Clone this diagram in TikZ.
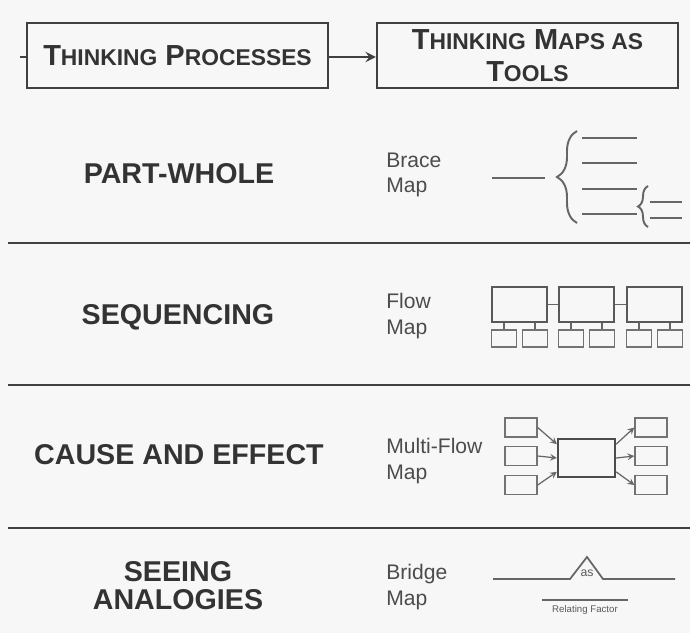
\documentclass[tikz,border=0pt]{standalone}
\usepackage{fontspec}
\setmainfont{Liberation Sans}
\usetikzlibrary{arrows, decorations.pathreplacing, calc}

\newcommand{\smcap}[2]{#1{\fontsize{13pt}{14pt}\selectfont #2}}

\tikzset{
	headbox/.style={draw=black!75, line width=1.2pt, minimum width=6.02cm, minimum height=1.3cm, inner sep=0pt, align=center, text=black!80, font=\fontsize{16.5pt}{15.6pt}\selectfont\bfseries},
	title/.style={inner sep=0pt, align=center, text=black!80, font=\fontsize{16.3pt}{15.9pt}\selectfont\bfseries},
	maplabel/.style={anchor=west, inner sep=0pt, align=left, text=black!70, font=\fontsize{12pt}{14.6pt}\selectfont},
	rule/.style={draw=black!75, line width=1.2pt},
	mapline/.style={draw=black!60, line width=1.1pt},
	bigbox/.style={draw=black!65, line width=1.3pt, minimum width=1.1cm, minimum height=0.7cm, inner sep=0pt},
	smallbox/.style={draw=black!55, line width=0.8pt, minimum width=0.49cm, minimum height=0.34cm, inner sep=0pt},
	centrebox/.style={draw=black!70, line width=1.3pt, minimum width=1.14cm, minimum height=0.76cm, inner sep=0pt},
	sidebox/.style={draw=black!55, line width=0.8pt, minimum width=0.64cm, minimum height=0.38cm, inner sep=0pt},
	mfarrow/.style={draw=black!60, line width=0.7pt, ->, >=stealth}
}

\begin{document}
\begin{tikzpicture}[x=0.02cm, y=-0.02cm]
		\fill[black!3] (0,0) rectangle (690,633);
		\useasboundingbox (0,0) rectangle (690,633);

		\draw (177.5,55.5) node[headbox] (proc) {\smcap{T}{HINKING} \smcap{P}{ROCESSES}}
		(527.5,55.5) node[headbox] (tools) {\smcap{T}{HINKING} \smcap{M}{APS AS}\\[2.5pt] \smcap{T}{OOLS}};
		\coordinate (stub) at (20,57);

		\draw[rule] (stub) -- (proc.west |- stub);
		\draw[rule, line width=1.6pt, ->, >=stealth] (proc.east |- stub) -- (tools.west |- stub);

		\foreach \y [count=\i] in {243, 385, 528} {
			\coordinate (sepl\i) at (8,\y);
			\coordinate (sepr\i) at (690,\y);
			\draw[rule] (sepl\i) -- (sepr\i);
		}

		\draw (179,174) node[title] (partwhole) {PART-WHOLE}
		(178,317) node[title] (sequencing) {SEQUENCING}
		(179,455) node[title] (cause) {CAUSE AND EFFECT}
		(178,586) node[title] (analogies) {SEEING\\ANALOGIES};

		\draw (386,175) node[maplabel] (bracelbl) {Brace\\Map}
		(386,316) node[maplabel] (flowlbl) {Flow\\Map}
		(386,461) node[maplabel] (multilbl) {Multi-Flow\\Map}
		(386,587) node[maplabel] (bridgelbl) {Bridge\\Map};

		% brace map
		\draw[mapline] (492,178) -- (545,178);
		\draw[mapline, decorate, decoration={brace, amplitude=0.4cm}] (577,223) -- (577,131);
		\foreach \y in {138, 163, 189, 214}
			\draw[mapline] (582,\y) -- (637,\y);
		\draw[mapline, decorate, decoration={brace, amplitude=0.2cm}] (648,227) -- (648,186);
		\foreach \y in {202, 218}
			\draw[mapline] (650,\y) -- (682,\y);

		% flow map
		\foreach \x [count=\i] in {519.5, 586.5, 654.5} {
			\node[bigbox] (fb\i) at (\x,304.5) {};
			\node[smallbox] (fsa\i) at (\x-15.5,338.5) {};
			\node[smallbox] (fsb\i) at (\x+15.5,338.5) {};
			\draw[mapline, line width=0.8pt] (fsa\i.north) -- (fsa\i.north |- fb\i.south);
			\draw[mapline, line width=0.8pt] (fsb\i.north) -- (fsb\i.north |- fb\i.south);
		}
		\draw[mapline] (fb1) -- (fb2);
		\draw[mapline] (fb2) -- (fb3);

		% multi-flow map
		\node[centrebox] (mc) at (586.5,458) {};
		\foreach \y [count=\i] in {427.5, 456, 485} {
			\node[sidebox] (mla\i) at (521,\y) {};
			\node[sidebox] (mra\i) at (651,\y) {};
		}
		\foreach \i/\a in {1/155, 2/180, 3/205}
			\draw[mfarrow] (mla\i.east) -- (mc.\a);
		\foreach \i/\a in {1/25, 2/0, 3/335}
			\draw[mfarrow] (mc.\a) -- (mra\i.west);

		% bridge map
		\coordinate (bra) at (493,579);
		\coordinate (brb) at (570,579);
		\coordinate (brtop) at (587,557);
		\coordinate (brc) at (603,579);
		\coordinate (brd) at (675,579);
		\draw[mapline, line width=1pt] (bra) -- (brb) -- (brtop) -- (brc) -- (brd);
		\node[inner sep=0pt, text=black!65, font=\fontsize{7pt}{7pt}\selectfont] (as) at (587,573) {as};
		\coordinate (rfl) at (542,600);
		\coordinate (rfr) at (628,600);
		\draw[mapline, line width=0.8pt] (rfl) -- (rfr);
		\node[inner sep=0pt, text=black!65, font=\fontsize{5.5pt}{6pt}\selectfont] (relfac) at (585,610) {Relating Factor};
\end{tikzpicture}
\end{document}
